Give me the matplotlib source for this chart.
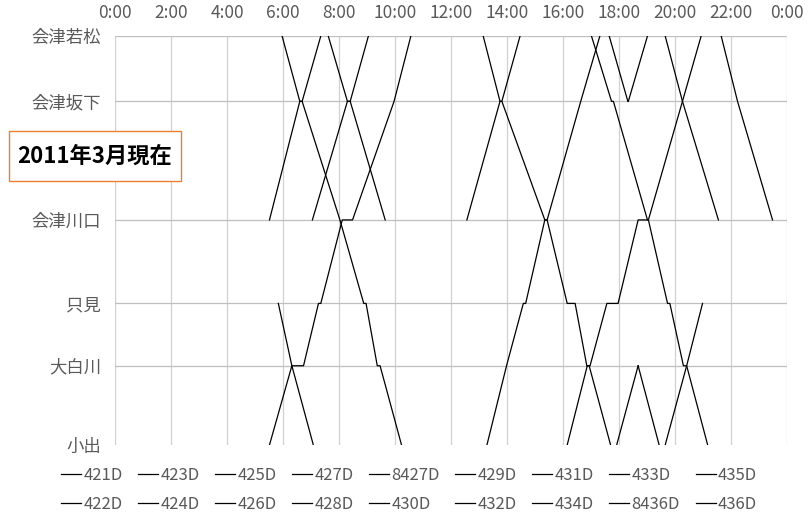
import matplotlib.pyplot as plt
from matplotlib.patches import Rectangle

plt.rcParams['font.family'] = ['Noto Sans CJK JP', 'DejaVu Sans']

# stations and distance from 会津若松 (km)
stations = ["会津若松", "会津坂下", "会津川口", "只見", "大白川", "小出"]
station_km = [0.0, 21.6, 60.8, 88.4, 109.0, 135.2]

hour_ticks = list(range(0, 25, 2))
hour_labels = [f"{h % 24}:00" for h in hour_ticks]

# down trains (会津若松 -> 小出), (station, time)
t421 = [("只見", "5:50"), ("大白川", "6:19"), ("小出", "7:05")]
t423 = [("会津若松", "5:58"), ("会津坂下", "6:36"), ("会津坂下", "6:41"), ("会津川口", "8:02"),
        ("只見", "8:53"), ("只見", "8:58"), ("大白川", "9:22"), ("大白川", "9:28"), ("小出", "10:14")]
t425 = [("会津若松", "7:37"), ("会津坂下", "8:18"), ("会津坂下", "8:24"), ("会津川口", "9:39")]
t427 = [("会津若松", "13:09"), ("会津坂下", "13:45"), ("会津坂下", "13:49"), ("会津川口", "15:21"),
        ("会津川口", "15:26"), ("只見", "16:09"), ("只見", "16:26"), ("大白川", "16:51"),
        ("大白川", "16:56"), ("小出", "17:42")]
t8427 = [("大白川", "18:41"), ("小出", "19:26")]
t429 = [("会津若松", "17:01"), ("会津坂下", "17:44"), ("会津坂下", "17:48"), ("会津川口", "19:01"),
        ("会津川口", "19:03"), ("只見", "19:44"), ("只見", "19:49"), ("大白川", "20:18"),
        ("大白川", "20:25"), ("小出", "21:10")]
t431 = [("会津若松", "17:39"), ("会津坂下", "18:19")]
t433 = [("会津若松", "19:39"), ("会津坂下", "20:16"), ("会津川口", "21:33")]
t435 = [("会津若松", "21:39"), ("会津坂下", "22:14"), ("会津川口", "23:29")]

# up trains (小出 -> 会津若松)
t422 = [("会津川口", "5:31"), ("会津坂下", "6:36"), ("会津坂下", "6:41"), ("会津若松", "7:21")]
t424 = [("小出", "5:31"), ("大白川", "6:19"), ("大白川", "6:44"), ("只見", "7:16"), ("只見", "7:21"),
        ("会津川口", "8:07"), ("会津川口", "8:29"), ("会津坂下", "9:58"), ("会津若松", "10:34")]
t426 = [("会津川口", "7:03"), ("会津坂下", "8:18"), ("会津坂下", "8:24"), ("会津若松", "9:03")]
t428 = [("会津川口", "12:34"), ("会津坂下", "13:45"), ("会津坂下", "13:49"), ("会津若松", "14:28")]
t430 = [("小出", "13:17"), ("大白川", "13:59"), ("只見", "14:35"), ("只見", "14:40"),
        ("会津川口", "15:21"), ("会津川口", "15:26"), ("会津坂下", "16:38"), ("会津若松", "17:19")]
t432 = [("小出", "16:09"), ("大白川", "16:52"), ("大白川", "16:58"), ("只見", "17:34"), ("只見", "17:58"),
        ("会津川口", "18:41"), ("会津川口", "19:03"), ("会津坂下", "20:16"), ("会津若松", "20:56")]
t434 = [("会津坂下", "18:20"), ("会津若松", "19:01")]
t8436 = [("小出", "17:55"), ("大白川", "18:41")]
t436 = [("小出", "19:39"), ("大白川", "20:25"), ("只見", "20:59")]

down_names = ["421D", "423D", "425D", "427D", "8427D", "429D", "431D", "433D", "435D"]
down_trains = [t421, t423, t425, t427, t8427, t429, t431, t433, t435]
up_names = ["422D", "424D", "426D", "428D", "430D", "432D", "434D", "8436D", "436D"]
up_trains = [t422, t424, t426, t428, t430, t432, t434, t8436, t436]


def to_hours(s):
    h, m = s.split(":")
    return int(h) + int(m) / 60


fig = plt.figure(figsize=(8.1, 5.17), dpi=100)
ax = fig.add_axes([115 / 810, 1 - 445 / 517, 672 / 810, 409 / 517])

for h in hour_ticks:
    ax.axvline(h, color="#d0d0d0", lw=0.9, zorder=0)
for km in station_km[:-1]:
    ax.axhline(km, color="#bfbfbf", lw=0.9, zorder=0)

handles = {}
for name, tr in zip(down_names + up_names, down_trains + up_trains):
    xs = [to_hours(t) for st, t in tr]
    ys = [station_km[stations.index(st)] for st, t in tr]
    line, = ax.plot(xs, ys, color="black", lw=0.9, label=name)
    handles[name] = line

ax.set_xlim(0, 24)
ax.set_ylim(135.2, 0)
ax.xaxis.tick_top()
ax.set_xticks(hour_ticks)
ax.set_xticklabels(hour_labels)
ax.set_yticks(station_km)
ax.set_yticklabels(stations)
ax.tick_params(length=0, labelsize=12.5, labelcolor="#595959")
ax.tick_params(axis="x", pad=10)
ax.tick_params(axis="y", pad=10)
for sp in ax.spines.values():
    sp.set_visible(False)

# legend: odd trains in first row, even trains in second row
order = []
for a, b in zip(down_names, up_names):
    order += [a, b]
fig.legend([handles[n] for n in order], order, loc="upper center", bbox_to_anchor=(0.505, 0.116),
           ncol=9, frameon=False, fontsize=12, handlelength=1.2, handletextpad=0.12,
           columnspacing=0.95, labelspacing=0.7, labelcolor="#595959",
           borderaxespad=0.2)

# note box
fig.patches.append(Rectangle((9 / 810, 1 - 181 / 517), 172 / 810, 50 / 517, transform=fig.transFigure,
                             facecolor="white", edgecolor="#ED7D31", lw=1.0))
fig.text(95 / 810, 1 - 156 / 517, "2011年3月現在", ha="center", va="center",
         fontsize=16, fontweight="bold", color="black")

fig.savefig("out.png", dpi=100)
